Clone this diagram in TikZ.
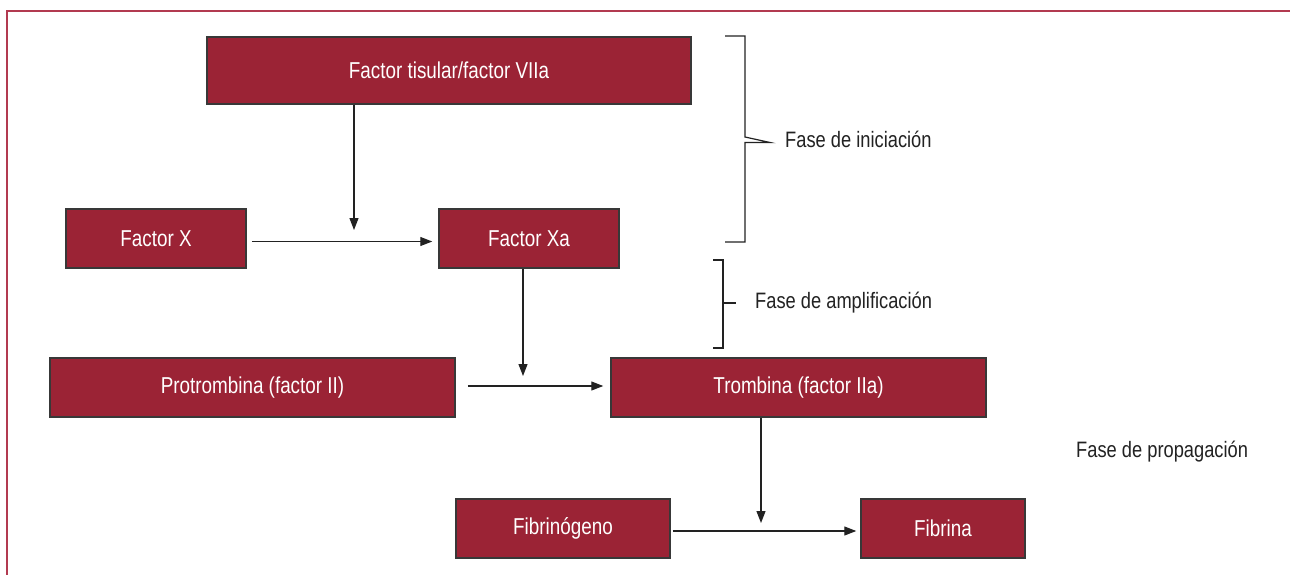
\documentclass[tikz,border=0pt]{standalone}
\usepackage{fontspec}
\setmainfont{Liberation Sans}[FakeStretch=0.82]
\usetikzlibrary{arrows.meta}
\definecolor{crim}{HTML}{9B2335}
\definecolor{frame}{HTML}{B23A50}
\definecolor{ink}{HTML}{222222}
\tikzset{
  fbox/.style={draw=ink!90, line width=1.5pt, fill=crim, text=white, inner sep=0pt, font=\fontsize{23}{26}\selectfont},
  lbl/.style={anchor=west, inner sep=0pt, text=ink, font=\fontsize{22.3}{26}\selectfont},
  conn/.style={draw=ink, line width=1.2pt, -{Triangle[length=12pt,width=9pt]}},
  brk/.style={draw=ink, line width=1.2pt},
}
\begin{document}
\begin{tikzpicture}[x=1pt,y=-1pt]
\useasboundingbox (0,0) rectangle (1290,575);
\fill[white] (0,0) rectangle (1290,575);
\draw[frame, line width=2pt] (7,575) -- (7,11) -- (1290,11);
% boxes
\node[fbox, minimum width=484pt, minimum height=67pt] (tf) at (449,70.5) {Factor tisular/factor VIIa};
\node[fbox, minimum width=180pt, minimum height=59pt] (fx) at (156,238.5) {Factor X};
\node[fbox, minimum width=180pt, minimum height=59pt] (fxa) at (529,238.5) {Factor Xa};
\node[fbox, minimum width=405pt, minimum height=59pt] (pro) at (252.5,387.5) {Protrombina (factor II)};
\node[fbox, minimum width=375pt, minimum height=59pt] (tro) at (798.5,387.5) {Trombina (factor IIa)};
\node[fbox, minimum width=214pt, minimum height=59pt] (fbg) at (563,528.5) {Fibrinógeno};
\node[fbox, minimum width=164pt, minimum height=59pt] (fbr) at (943,528.5) {Fibrina};
% labels
\node[lbl] (l1) at (785,139) {Fase de iniciación};
\node[lbl] (l2) at (755,303) {Fase de amplificación};
\node[lbl] (l3) at (1076,452) {Fase de propagación};
% free ends
\coordinate (m1) at (354,230);
\coordinate (m2) at (523,376);
\coordinate (m3) at (761,523);
% connectors
\draw[conn] (tf.south -| m1) -- (m1);
\draw[conn, shorten <=5pt, shorten >=6pt] ([yshift=-3pt]fx.east) -- ([yshift=-3pt]fxa.west);
\draw[conn] (fxa.south -| m2) -- (m2);
\draw[conn, shorten <=12pt, shorten >=7pt] ([yshift=1.5pt]pro.east) -- ([yshift=1.5pt]tro.west);
\draw[conn] (tro.south -| m3) -- (m3);
\draw[conn, shorten <=2pt, shorten >=4pt] ([yshift=-2.5pt]fbg.east) -- ([yshift=-2.5pt]fbr.west);
% brackets
\draw[brk] (725,36) -- (745,36) -- (745,137) -- (770,142.5) -- (745,142.5) -- (745,242) -- (725,242);
\draw[brk] (713,260) -- (723,260) -- (723,348) -- (713,348);
\draw[brk] (723,303) -- (736,303);
\end{tikzpicture}
\end{document}
